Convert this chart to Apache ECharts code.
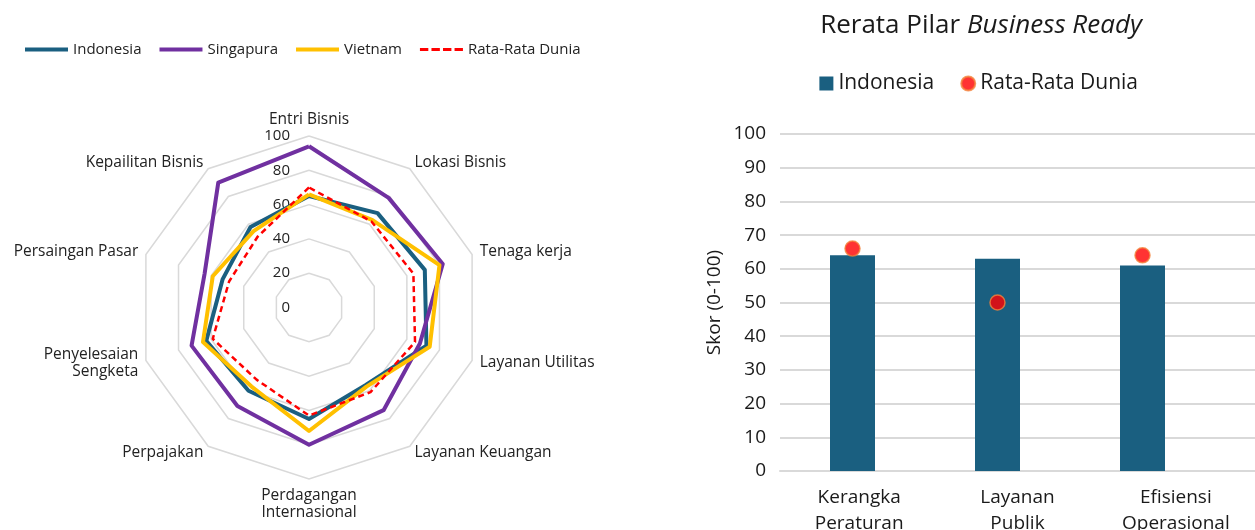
<!DOCTYPE html>
<html>
<head>
<meta charset="utf-8">
<script src="https://cdn.jsdelivr.net/npm/echarts@6/dist/echarts.min.js"></script>
<style>
html,body{margin:0;padding:0;background:#fff;}
#c{width:1255px;height:530px;}
</style>
</head>
<body>
<div id="c"></div>
<script>
// ---- Radar data (clockwise from top) ----
const radarIndicators = ['Entri Bisnis','Lokasi Bisnis','Tenaga kerja','Layanan Utilitas','Layanan Keuangan','Perdagangan\nInternasional','Perpajakan','Penyelesaian\nSengketa','Persaingan Pasar','Kepailitan Bisnis'];
const radarIndonesia = [65,68,71,72,56,65,60,63,53,58];
const radarSingapura = [94,79,82,68,74,80,71,72,64,90];
const radarVietnam   = [66,63,80,74,57,72,57,65,59,55];
const radarDunia     = [70,62,64,65,61,63,52,59,49,51];
const radarSeriesNames = ['Indonesia','Singapura','Vietnam','Rata-Rata Dunia'];

// ---- Bar data ----
const barCategories = ['Kerangka\nPeraturan','Layanan\nPublik','Efisiensi\nOperasional'];
const barIndonesia = [64,63,61];
const barDunia = [66,50,64];
const barLegendNames = ['Indonesia','Rata-Rata Dunia'];

const FONT = 'Open Sans';
const TEAL = '#1A5F80';
const PURPLE = '#7030A0';
const GOLD = '#FFC000';
const RED = '#FF0000';

// ECharts radar runs counter-clockwise; reorder to draw clockwise
const n = radarIndicators.length;
const cw = arr => arr.map((_, k) => arr[(n - k) % n]);

const indicators = cw(radarIndicators).map((name, k) => {
  const o = { name: name, min: 0, max: 100 };
  if (k === 0) o.axisLabel = { show: true };
  return o;
});

const chart = echarts.init(document.getElementById('c'), null, { renderer: 'canvas' });

const dashIcon = 'path://M0,0h8v3h-8z M11,0h8v3h-8z M22,0h8v3h-8z M33,0h8v3h-8z';

const option = {
  animation: false,
  textStyle: { fontFamily: FONT },
  title: {
    text: '{n|Rerata Pilar }{i|Business Ready}',
    left: 976, top: 8, textAlign: 'center',
    textStyle: {
      fontWeight: 'normal',
      rich: {
        n: { fontFamily: FONT, fontSize: 26, color: '#1a1a1a', fontWeight: 'normal' },
        i: { fontFamily: FONT, fontSize: 26, color: '#1a1a1a', fontStyle: 'italic', fontWeight: 'normal' }
      }
    }
  },
  legend: [
    {
      left: 20, top: 37,
      itemWidth: 43, itemHeight: 4, itemGap: 18,
      textStyle: { fontFamily: FONT, fontSize: 15, color: '#222' },
      data: [
        { name: radarSeriesNames[0], icon: 'rect' },
        { name: radarSeriesNames[1], icon: 'rect' },
        { name: radarSeriesNames[2], icon: 'rect' },
        { name: radarSeriesNames[3], icon: dashIcon, itemStyle: { color: RED } }
      ]
    },
    {
      left: 'auto', right: 112, top: 68,
      itemWidth: 14, itemHeight: 14, itemGap: 26,
      textStyle: { fontFamily: FONT, fontSize: 21, color: '#1a1a1a' },
      formatter: name => name.replace(' (bar)', ''),
      data: [
        { name: barLegendNames[0] + ' (bar)', icon: 'rect' },
        { name: barLegendNames[1] + ' (bar)', icon: 'circle' }
      ]
    }
  ],
  radar: {
    center: [309, 307.5],
    radius: 171.5,
    shape: 'polygon',
    splitNumber: 5,
    startAngle: 90,
    indicator: indicators,
    axisName: { color: '#222', fontFamily: FONT, fontSize: 15.5, lineHeight: 17 },
    nameGap: 8,
    axisLine: { show: false },
    axisTick: { show: false },
    axisLabel: { show: false, color: '#222', fontSize: 15, fontFamily: FONT, margin: 19 },
    splitLine: { lineStyle: { color: '#d9d9d9', width: 1.5 } },
    splitArea: { show: false }
  },
  grid: [
    { left: 780, right: 0, top: 134, bottom: 59, containLabel: false, outerBoundsMode: 'none' },
    { left: 780, width: 435, top: 134, bottom: 59, containLabel: false, outerBoundsMode: 'none' }
  ],
  xAxis: [
    {
      gridIndex: 0, type: 'category', data: barCategories,
      axisLine: { show: true, lineStyle: { color: '#d9d9d9', width: 2 } }, axisTick: { show: false },
      axisLabel: { color: '#1a1a1a', fontSize: 19, lineHeight: 26, margin: 14, fontFamily: FONT, interval: 0 }
    },
    {
      gridIndex: 1, type: 'category', data: barCategories,
      axisLine: { show: false }, axisTick: { show: false }, axisLabel: { show: false }
    }
  ],
  yAxis: [
    {
      gridIndex: 0, type: 'value', min: 0, max: 100, interval: 10,
      axisLabel: { show: false }, axisLine: { show: false }, axisTick: { show: false },
      splitLine: { lineStyle: { color: '#d9d9d9', width: 2 } }
    },
    {
      gridIndex: 1, type: 'value', min: 0, max: 100, interval: 10,
      axisLabel: { color: '#1a1a1a', fontSize: 19, margin: 14, fontFamily: FONT },
      axisLine: { show: false }, axisTick: { show: false }, splitLine: { show: false },
      name: 'Skor (0-100)', nameLocation: 'middle', nameGap: 56, nameRotate: 90,
      nameTextStyle: { color: '#1a1a1a', fontSize: 19, fontFamily: FONT }
    }
  ],
  series: [
    {
      type: 'radar',
      symbol: 'none',
      data: [
        { name: radarSeriesNames[0], value: cw(radarIndonesia), lineStyle: { color: TEAL, width: 4 }, itemStyle: { color: TEAL } },
        { name: radarSeriesNames[1], value: cw(radarSingapura), lineStyle: { color: PURPLE, width: 4 }, itemStyle: { color: PURPLE } },
        { name: radarSeriesNames[2], value: cw(radarVietnam), lineStyle: { color: GOLD, width: 4 }, itemStyle: { color: GOLD } },
        { name: radarSeriesNames[3], value: cw(radarDunia), lineStyle: { color: RED, width: 2.5, type: [6, 4] }, itemStyle: { color: RED } }
      ],
      z: 3
    },
    {
      name: barLegendNames[0] + ' (bar)',
      type: 'bar', xAxisIndex: 1, yAxisIndex: 1,
      data: barIndonesia, barWidth: 45,
      itemStyle: { color: TEAL }
    },
    {
      name: barLegendNames[1] + ' (bar)',
      type: 'scatter', xAxisIndex: 1, yAxisIndex: 1,
      data: barDunia, symbolSize: 15,
      itemStyle: { color: RED, borderColor: '#F4823A', borderWidth: 1.5 },
      z: 5
    }
  ]
};
chart.setOption(option);
</script>
</body>
</html>
